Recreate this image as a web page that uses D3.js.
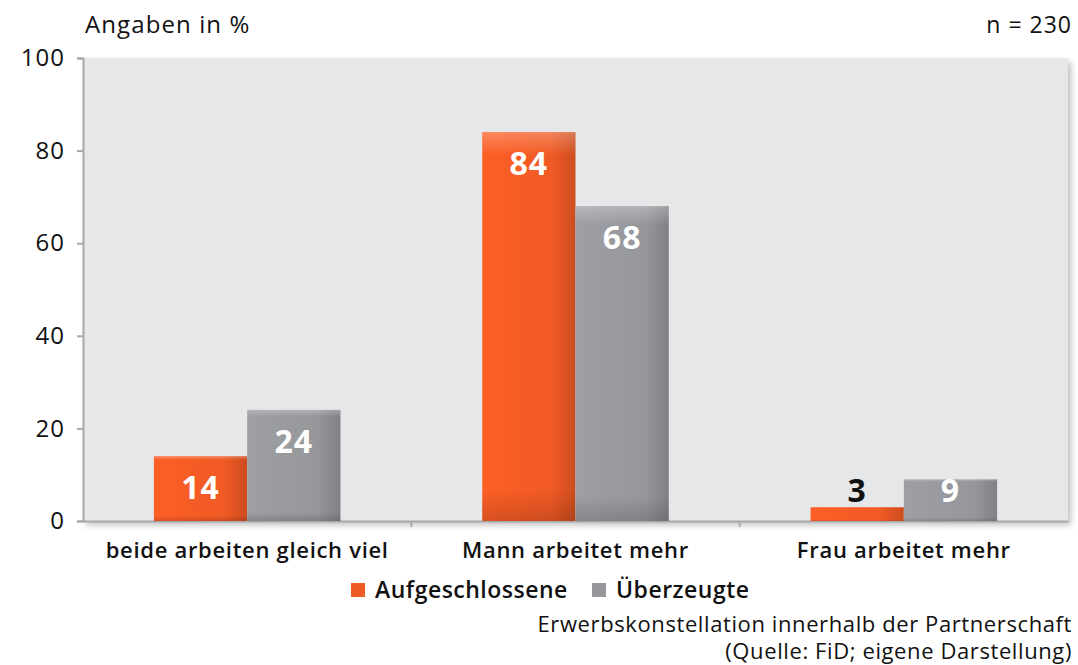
<!DOCTYPE html>
<html>
<head>
<meta charset="utf-8">
<script src="https://cdn.jsdelivr.net/npm/d3@7"></script>
<style>
  body { margin: 0; background: #fff; }
  svg text { font-family: "Open Sans", sans-serif; }
</style>
</head>
<body>
<div id="chart"></div>
<script>
// data
var categories = ["beide arbeiten gleich viel", "Mann arbeitet mehr", "Frau arbeitet mehr"];
var seriesNames = ["Aufgeschlossene", "Überzeugte"];
var aufgeschlossene = [14, 84, 3];
var ueberzeugte = [24, 68, 9];
var yTicks = [0, 20, 40, 60, 80, 100];
var colors = ["#f05a24", "#96979b"];

var width = 1078, height = 665;
var margin = {top: 58, right: 10, bottom: 144, left: 83};

var svg = d3.select("#chart").append("svg")
    .attr("width", width)
    .attr("height", height);

var defs = svg.append("defs");

var shadow = defs.append("filter").attr("id", "shadow")
    .attr("x", "-5%").attr("y", "-5%").attr("width", "112%").attr("height", "115%");
shadow.append("feDropShadow")
    .attr("dx", 3).attr("dy", 4).attr("stdDeviation", 3)
    .attr("flood-color", "#000").attr("flood-opacity", 0.25);

// bar shading: light top edge, darker right side
colors.forEach(function(c, i) {
  var gh = defs.append("linearGradient").attr("id", "gh" + i)
      .attr("x1", 0).attr("y1", 0).attr("x2", 1).attr("y2", 0);
  gh.append("stop").attr("offset", "0%").attr("stop-color", d3.color(c).brighter(0.15));
  gh.append("stop").attr("offset", "75%").attr("stop-color", c);
  gh.append("stop").attr("offset", "100%").attr("stop-color", d3.color(c).darker(0.45));
  var gv = defs.append("linearGradient").attr("id", "gv" + i)
      .attr("x1", 0).attr("y1", 0).attr("x2", 0).attr("y2", 1);
  gv.append("stop").attr("offset", "0%").attr("stop-color", "#fff").attr("stop-opacity", 0.25);
  gv.append("stop").attr("offset", "6%").attr("stop-color", "#fff").attr("stop-opacity", 0);
  gv.append("stop").attr("offset", "92%").attr("stop-color", "#000").attr("stop-opacity", 0);
  gv.append("stop").attr("offset", "100%").attr("stop-color", "#000").attr("stop-opacity", 0.15);
});

var plotW = width - margin.left - margin.right;
var plotH = height - margin.top - margin.bottom;

var x0 = d3.scaleBand().domain(categories).range([margin.left, margin.left + plotW]);
var x1 = d3.scaleBand().domain(seriesNames).range([0, x0.bandwidth()]).paddingOuter(0.76).paddingInner(0);
var y = d3.scaleLinear().domain([0, 100]).range([margin.top + plotH, margin.top]);

// plot background
svg.append("rect")
    .attr("x", margin.left).attr("y", margin.top)
    .attr("width", plotW).attr("height", plotH)
    .attr("fill", "#e6e7e8")
    .attr("filter", "url(#shadow)");

// y axis
var yAxis = svg.append("g")
    .attr("transform", "translate(" + margin.left + ",0)")
    .call(d3.axisLeft(y).tickValues(yTicks).tickSize(6).tickPadding(12));
yAxis.select(".domain").attr("stroke", "#a7a9ac").attr("stroke-width", 2);
yAxis.selectAll(".tick line").attr("stroke", "#a7a9ac").attr("stroke-width", 2);
yAxis.selectAll(".tick text").attr("font-size", 24).attr("fill", "#111")
    .style("letter-spacing", "1px")
    .style("font-family", "'Open Sans', sans-serif");

// x axis
var xAxis = svg.append("g")
    .attr("transform", "translate(0," + (margin.top + plotH) + ")")
    .call(d3.axisBottom(x0).tickSize(0).tickPadding(21));
xAxis.select(".domain").attr("stroke", "#a7a9ac").attr("stroke-width", 2);
xAxis.selectAll(".tick text").attr("font-size", 22).attr("font-weight", "600").attr("fill", "#111")
    .style("letter-spacing", "0.7px")
    .style("font-family", "'Open Sans', sans-serif");
// separators between categories
xAxis.selectAll(".sep")
  .data(categories.slice(1))
  .enter().append("line")
    .attr("x1", function(d) { return x0(d); })
    .attr("x2", function(d) { return x0(d); })
    .attr("y1", 0).attr("y2", 6)
    .attr("stroke", "#a7a9ac").attr("stroke-width", 2);

var rows = categories.map(function(c, i) {
  return {cat: c, vals: [aufgeschlossene[i], ueberzeugte[i]]};
});

var groups = svg.selectAll(".grp")
  .data(rows)
  .enter().append("g")
    .attr("transform", function(d) { return "translate(" + x0(d.cat) + ",0)"; });

var bars = groups.selectAll(".bar")
  .data(function(d) { return d.vals.map(function(v, i) { return {s: seriesNames[i], v: v, i: i}; }); })
  .enter().append("g");

bars.append("rect")
    .attr("x", function(d) { return x1(d.s); })
    .attr("y", function(d) { return y(d.v); })
    .attr("width", x1.bandwidth())
    .attr("height", function(d) { return y(0) - y(d.v); })
    .attr("fill", function(d) { return "url(#gh" + d.i + ")"; });
bars.append("rect")
    .attr("x", function(d) { return x1(d.s); })
    .attr("y", function(d) { return y(d.v); })
    .attr("width", x1.bandwidth())
    .attr("height", function(d) { return y(0) - y(d.v); })
    .attr("fill", function(d) { return "url(#gv" + d.i + ")"; });

bars.append("text")
    .attr("x", function(d) { return x1(d.s) + x1.bandwidth() / 2; })
    .attr("y", function(d) { return Math.min(y(d.v) + 43, y(0) - 19); })
    .attr("text-anchor", "middle")
    .attr("font-size", 32)
    .attr("font-weight", "bold")
    .style("letter-spacing", "1px")
    .attr("fill", function(d) { return (y(0) - y(d.v)) < 20 ? "#111" : "#fff"; })
    .text(function(d) { return d.v; });

// titles
svg.append("text").attr("x", 85).attr("y", 33)
    .attr("font-size", 24).style("letter-spacing", "1.1px").attr("fill", "#111").text("Angaben in %");
svg.append("text").attr("x", 1072).attr("y", 33).attr("text-anchor", "end")
    .attr("font-size", 23).style("letter-spacing", "1px").attr("fill", "#111").text("n = 230");

// legend
var legend = svg.append("g").attr("transform", "translate(351,590)");
var legendX = [0, 241];
seriesNames.forEach(function(s, i) {
  var g = legend.append("g").attr("transform", "translate(" + legendX[i] + ",0)");
  g.append("rect").attr("x", 0).attr("y", -7).attr("width", 14).attr("height", 14).attr("fill", colors[i]);
  g.append("text").attr("x", 24).attr("y", 8).attr("font-size", 23).attr("font-weight", "600")
      .style("letter-spacing", "0.5px")
      .attr("fill", "#111").text(s);
});

// footer
svg.append("text").attr("x", 1072).attr("y", 632).attr("text-anchor", "end")
    .attr("font-size", 22).style("letter-spacing", "0.6px")
    .attr("fill", "#111").text("Erwerbskonstellation innerhalb der Partnerschaft");
svg.append("text").attr("x", 1072).attr("y", 659).attr("text-anchor", "end")
    .attr("font-size", 22).style("letter-spacing", "0.6px")
    .attr("fill", "#111").text("(Quelle: FiD; eigene Darstellung)");
</script>
</body>
</html>
